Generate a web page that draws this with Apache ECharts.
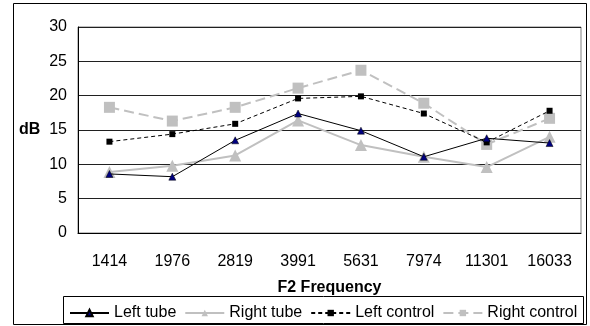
<!DOCTYPE html>
<html>
<head>
<meta charset="utf-8">
<script src="https://cdn.jsdelivr.net/npm/echarts@6/dist/echarts.min.js"></script>
<style>
  html, body { margin: 0; padding: 0; background: #fff; }
  #chart { width: 590px; height: 326px; }
</style>
</head>
<body>
<div id="chart"></div>
<script>
// F2 frequencies (Hz) on the category axis
const frequencies = ['1414', '1976', '2819', '3991', '5631', '7974', '11301', '16033'];

// Mean levels in dB for each ear / group
const leftTube     = [8.6, 8.2, 13.5, 17.4, 14.9, 11.1, 13.8, 13.1];
const rightTube    = [8.9, 9.8, 11.3, 16.4, 12.8, 11.1, 9.6, 14.0];
const leftControl  = [13.3, 14.4, 15.9, 19.6, 19.9, 17.4, 13.2, 17.8];
const rightControl = [18.3, 16.3, 18.3, 21.1, 23.7, 18.9, 12.9, 16.7];

const yTicks = [0, 5, 10, 15, 20, 25, 30];

const font = 'Liberation Sans, Arial, sans-serif';
const gray = '#c0c0c0';

const chart = echarts.init(document.getElementById('chart'), null, { renderer: 'canvas' });

chart.setOption({
  animation: false,
  backgroundColor: '#fff',
  textStyle: { fontFamily: font, color: '#000' },
  grid: { left: 78, right: 9, top: 27, bottom: 93, show: true, borderColor: '#808080', borderWidth: 1 },
  graphic: [
    { type: 'rect', shape: { x: 13.5, y: 3.5, width: 573, height: 321 },
      style: { fill: null, stroke: '#000', lineWidth: 1 }, silent: true },
    { type: 'rect', shape: { x: 63.5, y: 296.5, width: 520, height: 27 },
      style: { fill: '#fff', stroke: '#000', lineWidth: 1 }, silent: true, z: 0 },
    { type: 'text', left: 19, top: 122,
      style: { text: 'dB', font: 'bold 16px ' + font, fill: '#000' } }
  ],
  legend: {
    left: 69, top: 305, width: 521, padding: 0,
    itemWidth: 39, itemHeight: 8, itemGap: 8,
    textStyle: { fontFamily: font, fontSize: 16, color: '#000' },
    data: ['Left tube', 'Right tube', 'Left control', 'Right control'],
    z: 10
  },
  xAxis: {
    type: 'category',
    data: frequencies,
    boundaryGap: true,
    name: 'F2 Frequency',
    nameLocation: 'middle',
    nameGap: 47,
    nameTextStyle: { fontFamily: font, fontSize: 16, fontWeight: 'bold', color: '#000' },
    axisLine: { lineStyle: { color: '#000', width: 1 } },
    axisTick: { show: false },
    axisLabel: { fontFamily: font, fontSize: 16, color: '#000', margin: 21 }
  },
  yAxis: {
    type: 'value',
    min: yTicks[0], max: yTicks[yTicks.length - 1], interval: 5,
    axisLine: { show: true, lineStyle: { color: '#000', width: 1 } },
    axisTick: { show: false },
    axisLabel: { fontFamily: font, fontSize: 16, color: '#000', margin: 11 },
    splitLine: { lineStyle: { color: '#202020', width: 1 } }
  },
  series: [
    {
      name: 'Right control', type: 'line', data: rightControl, z: 2,
      symbol: 'rect', symbolSize: 11,
      itemStyle: { color: gray },
      lineStyle: { color: gray, width: 2, type: [10, 5] }
    },
    {
      name: 'Right tube', type: 'line', data: rightTube, z: 2,
      symbol: 'triangle', symbolSize: 12,
      itemStyle: { color: gray },
      lineStyle: { color: gray, width: 2 }
    },
    {
      name: 'Left control', type: 'line', data: leftControl, z: 3,
      symbol: 'rect', symbolSize: 6,
      itemStyle: { color: '#000' },
      lineStyle: { color: '#000', width: 1, type: [4, 3] }
    },
    {
      name: 'Left tube', type: 'line', data: leftTube, z: 3,
      symbol: 'triangle', symbolSize: 7,
      itemStyle: { color: '#000080', borderColor: '#000', borderWidth: 0.5 },
      lineStyle: { color: '#000', width: 1 }
    }
  ]
});
</script>
</body>
</html>
